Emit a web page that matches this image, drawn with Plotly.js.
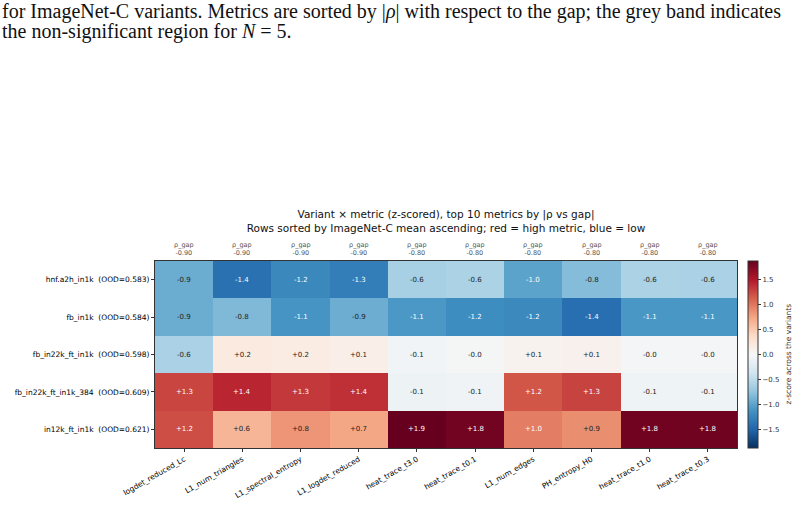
<!DOCTYPE html>
<html>
<head>
<meta charset="utf-8">
<script src="https://cdn.plot.ly/plotly-3.0.1.min.js"></script>
<style>
  html, body { margin: 0; padding: 0; background: #fff; }
  #wrap { position: relative; width: 804px; height: 508px; overflow: hidden; }
  #caption {
    position: absolute; left: 2px; top: 1px; z-index: 2;
    font-family: "Liberation Serif", "DejaVu Serif", serif;
    font-size: 20px; line-height: 20px; color: #111; white-space: nowrap;
  }
  #chart { position: absolute; left: 0; top: 0; width: 804px; height: 508px; }
</style>
</head>
<body>
<div id="wrap">
  <div id="caption">for ImageNet-C variants. Metrics are sorted by |<i>ρ</i>| with respect to the gap; the grey band indicates<br>the non-significant region for <i>N</i> = 5.</div>
  <div id="chart"></div>
</div>
<script>
// Metrics (columns), ordered by |rho| against the gap
const metrics = ["logdet_reduced_Lc", "L1_num_triangles", "L1_spectral_entropy", "L1_logdet_reduced",
                 "heat_trace_t3.0", "heat_trace_t0.1", "L1_num_edges", "PH_entropy_H0",
                 "heat_trace_t1.0", "heat_trace_t0.3"];
const rhoGap = [-0.90, -0.90, -0.90, -0.90, -0.80, -0.80, -0.80, -0.80, -0.80, -0.80];

// Variants (rows), sorted by ImageNet-C mean ascending
const variants = ["hnf.a2h_in1k", "fb_in1k", "fb_in22k_ft_in1k", "fb_in22k_ft_in1k_384", "in12k_ft_in1k"];
const oodScore = [0.583, 0.584, 0.598, 0.609, 0.621];

// z-scored metric values per variant
const zHnfA2h   = [-0.94, -1.41, -1.22, -1.31, -0.62, -0.60, -1.01, -0.82, -0.60, -0.61];
const zFbIn1k   = [-0.94, -0.84, -1.12, -0.93, -1.09, -1.18, -1.21, -1.43, -1.10, -1.10];
const zFb22k    = [-0.61,  0.18,  0.16,  0.12, -0.07, -0.03,  0.07,  0.09, -0.04, -0.04];
const zFb22k384 = [ 1.27,  1.43,  1.33,  1.38, -0.10, -0.08,  1.18,  1.28, -0.09, -0.09];
const zIn12k    = [ 1.22,  0.64,  0.84,  0.74,  1.88,  1.82,  0.97,  0.88,  1.83,  1.84];

const zRows = [zHnfA2h, zFbIn1k, zFb22k, zFb22k384, zIn12k];
const rowLabels = variants.map((v, i) => v + "\u00a0\u00a0(OOD=" + oodScore[i].toFixed(3) + ")");

// matplotlib RdBu_r
const rdbuR = [
  [0.0, "#053061"], [0.1, "#2166ac"], [0.2, "#4393c3"], [0.3, "#92c5de"], [0.4, "#d1e5f0"],
  [0.5, "#f7f7f7"], [0.6, "#fddbc7"], [0.7, "#f4a582"], [0.8, "#d6604d"], [0.9, "#b2182b"],
  [1.0, "#67001f"]
];

const vmax = Math.max(...zRows.flat().map(Math.abs));
const fmt = v => (v > 0 ? "+" : "") + v.toFixed(1);

const annotations = [];
zRows.forEach((row, r) => {
  row.forEach((v, c) => {
    annotations.push({
      x: metrics[c], y: rowLabels[r], xref: "x", yref: "y",
      text: fmt(v), showarrow: false,
      font: { family: "DejaVu Sans", size: 7, color: Math.abs(v) > 0.5 * vmax ? "#ffffff" : "#222222" }
    });
  });
});

// rho_gap annotations above each column
metrics.forEach((m, c) => {
  annotations.push({
    x: m, xref: "x", y: 1, yref: "paper", yanchor: "bottom", yshift: 2,
    text: "ρ_gap<br>" + rhoGap[c].toFixed(2), showarrow: false,
    font: { family: "DejaVu Sans", size: 6.5, color: "#555555" }
  });
});

// colorbar label
annotations.push({
  x: (788 - 155) / 582, xref: "paper", xanchor: "center", y: 0.5, yref: "paper", textangle: -90,
  text: "z-score across the variants", showarrow: false,
  font: { family: "DejaVu Sans", size: 7.5, color: "#333333" }
});

const trace = {
  type: "heatmap",
  x: metrics, y: rowLabels, z: zRows,
  colorscale: rdbuR, zmin: -vmax, zmax: vmax,
  xgap: 0, ygap: 0, hoverinfo: "skip",
  colorbar: {
    x: (748 - 155) / 582, xanchor: "left", xref: "paper", xpad: 0, ypad: 0,
    y: 0.5, yanchor: "middle", len: 187, lenmode: "pixels",
    thickness: 10, outlinewidth: 1, outlinecolor: "#333333",
    tickvals: [-1.5, -1.0, -0.5, 0, 0.5, 1.0, 1.5], tickformat: ".1f",
    ticks: "outside", ticklen: 3, tickcolor: "#333333",
    tickfont: { family: "DejaVu Sans", size: 7, color: "#333333" }
  }
};

const layout = {
  width: 804, height: 508,
  margin: { l: 155, r: 67, t: 261, b: 60, pad: 0, autoexpand: false },
  paper_bgcolor: "#ffffff", plot_bgcolor: "#ffffff",
  title: {
    text: "Variant × metric (z-scored), top 10 metrics by |ρ vs gap|<br>Rows sorted by ImageNet-C mean ascending; red = high metric, blue = low",
    font: { family: "DejaVu Sans", size: 10.5, color: "#111111" },
    x: 0.5, xanchor: "center", xref: "paper",
    y: (508 - 218) / 508, yanchor: "top", yref: "container"
  },
  xaxis: {
    type: "category", tickangle: -30, ticks: "outside", ticklen: 3, tickcolor: "#333",
    tickfont: { family: "DejaVu Sans", size: 7.5, color: "#000" },
    showline: true, linecolor: "#333", linewidth: 1, mirror: true, showgrid: false, zeroline: false,
    automargin: false
  },
  yaxis: {
    type: "category", autorange: "reversed", ticks: "outside", ticklen: 3, tickcolor: "#333",
    tickfont: { family: "DejaVu Sans", size: 7.5, color: "#000" },
    showline: true, linecolor: "#333", linewidth: 1, mirror: true, showgrid: false, zeroline: false,
    automargin: false
  },
  annotations: annotations
};

Plotly.newPlot("chart", [trace], layout, { displayModeBar: false, staticPlot: true });
</script>
</body>
</html>
